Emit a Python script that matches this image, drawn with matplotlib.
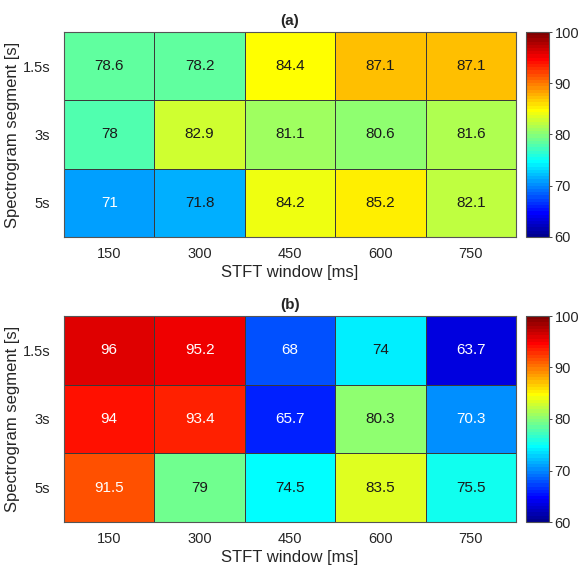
import numpy as np
import matplotlib
matplotlib.use('Agg')
import matplotlib.pyplot as plt
from matplotlib.colors import Normalize, ListedColormap

plt.rcParams['font.family'] = ['Liberation Sans', 'DejaVu Sans']

# data
stft_windows = ['150', '300', '450', '600', '750']
segments = ['1.5s', '3s', '5s']
acc_a = [
    [78.6, 78.2, 84.4, 87.1, 87.1],
    [78.0, 82.9, 81.1, 80.6, 81.6],
    [71.0, 71.8, 84.2, 85.2, 82.1],
]
acc_b = [
    [96.0, 95.2, 68.0, 74.0, 63.7],
    [94.0, 93.4, 65.7, 80.3, 70.3],
    [91.5, 79.0, 74.5, 83.5, 75.5],
]
panel_titles = ['(a)', '(b)']
cbar_ticks = [60, 70, 80, 90, 100]

VMIN, VMAX = 60, 100
TXT = '#262626'
W, H = 578, 567


def matlab_jet(m=64):
    # same construction as MATLAB's jet(m)
    n = int(np.ceil(m / 4))
    u = np.concatenate([np.arange(1, n + 1) / n, np.ones(n - 1), np.arange(n, 0, -1) / n])
    g = int(np.ceil(n / 2)) - (m % 4 == 1) + np.arange(1, len(u) + 1)
    r = g + n
    b = g - n
    J = np.zeros((m, 3))
    for ch, idx in ((0, r), (1, g), (2, b)):
        ok = (idx >= 1) & (idx <= m)
        J[idx[ok] - 1, ch] = u[ok]
    return ListedColormap(J)


def fmt(v):
    return f'{v:g}'


def draw_panel(ax, cax, data, title):
    data = np.array(data)
    norm = Normalize(VMIN, VMAX)
    cmap = matlab_jet(64)
    mesh = ax.pcolormesh(data, cmap=cmap, norm=norm,
                         edgecolors='#3a3a3a', linewidth=0.6)
    ax.set_xlim(0, data.shape[1])
    ax.set_ylim(data.shape[0], 0)
    for i in range(data.shape[0]):
        for j in range(data.shape[1]):
            t = norm(data[i, j])
            col = 'white' if (t < 0.29 or t > 0.75) else '#1a1a1a'
            ax.text(j + 0.5, i + 0.5, fmt(data[i, j]), ha='center', va='center',
                    fontsize=11, color=col)
    ax.set_xticks(np.arange(data.shape[1]) + 0.5)
    ax.set_xticklabels(stft_windows)
    ax.set_yticks(np.arange(data.shape[0]) + 0.5)
    ax.set_yticklabels(segments)
    ax.tick_params(length=0, labelsize=10.5, colors=TXT)
    ax.tick_params(axis='x', pad=7)
    ax.tick_params(axis='y', pad=10)
    ax.set_xlabel('STFT window [ms]', fontsize=12, color=TXT, labelpad=3)
    ax.set_ylabel('Spectrogram segment [s]', fontsize=12, color=TXT, labelpad=2)
    ax.set_title(title, fontsize=11, fontweight='bold', color=TXT, pad=5)
    for s in ax.spines.values():
        s.set_color('#555555')
        s.set_linewidth(0.8)

    cb = plt.colorbar(mesh, cax=cax, ticks=cbar_ticks)
    cb.outline.set_edgecolor('#555555')
    cb.outline.set_linewidth(0.8)
    cax.tick_params(labelsize=10.5, colors=TXT, length=2, width=0.6, direction='out', pad=2)


def main():
    fig = plt.figure(figsize=(W / 100, H / 100), dpi=100)
    left, right = 64 / W, 516 / W
    cb_left, cb_right = 526 / W, 549 / W
    boxes = [(32, 237), (316, 522)]
    for (top, bot), data, title in zip(boxes, [acc_a, acc_b], panel_titles):
        y0 = 1 - bot / H
        h = (bot - top) / H
        ax = fig.add_axes([left, y0, right - left, h])
        cax = fig.add_axes([cb_left, y0, cb_right - cb_left, h])
        draw_panel(ax, cax, data, title)
    fig.savefig('out.png', dpi=100, facecolor='white')
    plt.close(fig)


if __name__ == '__main__':
    main()
